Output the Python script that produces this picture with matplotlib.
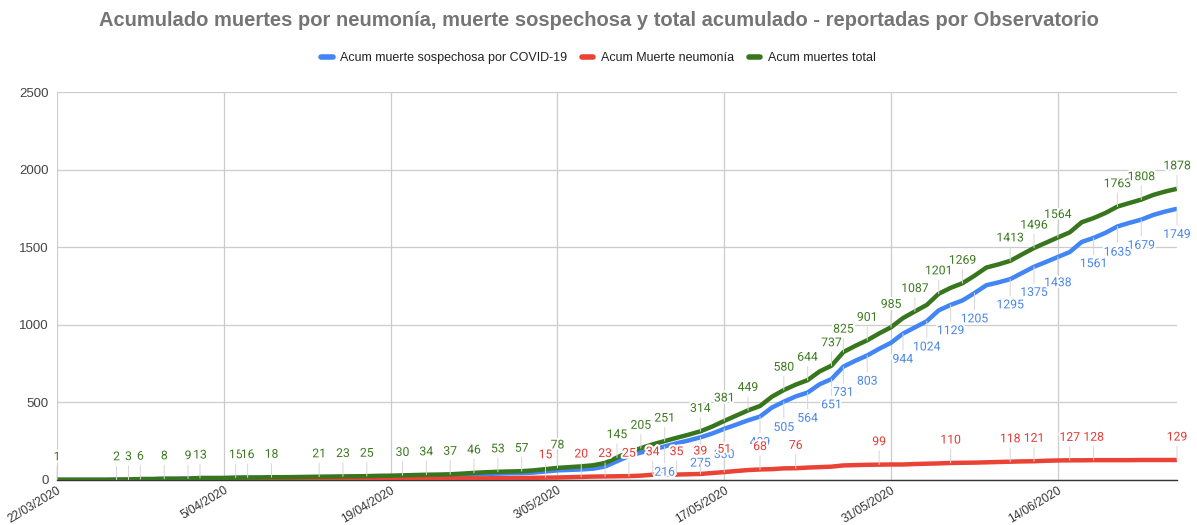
import matplotlib
matplotlib.use('Agg')
import matplotlib.pyplot as plt
import matplotlib.patheffects as pe
from matplotlib.lines import Line2D
import pandas as pd

# ---------------- data ----------------
start_date = '2020-03-22'
n_days = 95
dates = pd.date_range(start_date, periods=n_days, freq='D')

series_names = ['Acum muerte sospechosa por COVID-19', 'Acum Muerte neumonía', 'Acum muertes total']

sospechosa = [1, 1, 1, 1, 1, 2, 3, 6, 6, 8,
              8, 9, 12, 12, 12, 14, 15, 15, 16, 16,
              17, 18, 19, 19, 20, 21, 22, 23, 23, 24,
              25, 26, 26, 27, 31, 35, 39, 41, 43, 44,
              48, 55, 62, 65, 68, 73, 87, 121, 155, 177,
              196, 216, 237, 255, 275, 300, 330, 357, 385, 409,
              467, 505, 539, 564, 617, 651, 731, 769, 803, 846,
              885, 944, 984, 1024, 1094, 1129, 1158, 1205, 1256, 1274,
              1295, 1335, 1375, 1406, 1438, 1470, 1535, 1561, 1594, 1635,
              1658, 1679, 1709, 1731, 1749]

neumonia = [0, 0, 0, 0, 0, 0, 0, 0, 0, 0,
            0, 0, 1, 1, 1, 1, 1, 1, 2, 2,
            2, 2, 2, 3, 3, 3, 3, 4, 5, 6,
            7, 8, 9, 10, 10, 11, 11, 12, 12, 13,
            14, 15, 16, 18, 20, 22, 23, 24, 25, 28,
            34, 35, 35, 37, 39, 45, 51, 58, 64, 68,
            70, 75, 76, 80, 83, 86, 94, 96, 98, 99,
            100, 100, 103, 105, 107, 110, 111, 112, 114, 116,
            118, 120, 121, 124, 126, 127, 127, 128, 128, 128,
            128, 129, 129, 129, 129]

total = [1, 1, 1, 1, 1, 2, 3, 6, 6, 8,
         8, 9, 13, 13, 13, 15, 16, 16, 18, 18,
         19, 20, 21, 22, 23, 24, 25, 27, 28, 30,
         32, 34, 35, 37, 41, 46, 50, 53, 55, 57,
         62, 70, 78, 83, 88, 95, 110, 145, 180, 205,
         230, 251, 272, 292, 314, 345, 381, 415, 449, 477,
         537, 580, 615, 644, 700, 737, 825, 865, 901, 945,
         985, 1044, 1087, 1129, 1201, 1239, 1269, 1317, 1370, 1390,
         1413, 1455, 1496, 1530, 1564, 1597, 1662, 1689, 1722, 1763,
         1786, 1808, 1838, 1860, 1878]

# days (index into dates) that carry a visible data label
lbl_sospechosa = [51, 54, 56, 59, 61, 63, 65, 66, 68, 71, 73, 75, 77, 80, 82, 84, 87, 89, 91, 94]
lbl_neumonia = [41, 44, 46, 48, 50, 52, 54, 56, 59, 62, 69, 75, 80, 82, 85, 87, 94]
lbl_total = [0, 5, 6, 7, 9, 11, 12, 15, 16, 18, 22, 24, 26, 29, 31, 33, 35, 37, 39, 42,
             47, 49, 51, 54, 56, 58, 61, 63, 65, 66, 68, 70, 72, 74, 76, 80, 82, 84, 89, 91, 94]

tick_dates = ['2020-03-22', '2020-04-05', '2020-04-19', '2020-05-03',
              '2020-05-17', '2020-05-31', '2020-06-14']
y_ticks = [0, 500, 1000, 1500, 2000, 2500]

title = 'Acumulado muertes por neumonía, muerte sospechosa y total acumulado - reportadas por Observatorio'

# ---------------- style ----------------
c_blue = '#4285f4'
c_red = '#ea4335'
c_green = '#38761d'
c_blue_t = '#4a86e8'
c_red_t = '#e53935'
c_green_t = '#3d7a22'

plt.rcParams['font.family'] = ['Liberation Sans', 'DejaVu Sans']

W, H = 1197, 525
fig = plt.figure(figsize=(W / 100, H / 100), dpi=100)
ax = fig.add_axes([57 / W, 1 - 480 / H, (1177 - 57) / W, (480 - 92.3) / H])

ax.plot(dates, sospechosa, color=c_blue, lw=3.2, zorder=3, solid_capstyle='butt')
ax.plot(dates, neumonia, color=c_red, lw=3.2, zorder=3, solid_capstyle='butt')
ax.plot(dates, total, color=c_green, lw=3.2, zorder=4, solid_capstyle='butt')

halo = [pe.withStroke(linewidth=3, foreground='white')]


def add_labels(vals, idxs, color, off, z):
    for i in idxs:
        ax.annotate(str(vals[i]), xy=(dates[i], vals[i]), xytext=(0, off),
                    textcoords='offset points', ha='center', va='center',
                    fontsize=8.8, color=color, family=['Roboto', 'DejaVu Sans'],
                    path_effects=halo, zorder=z,
                    arrowprops=dict(arrowstyle='-', color='#d6d6d6', lw=0.7,
                                    shrinkA=0, shrinkB=0))


add_labels(sospechosa, lbl_sospechosa, c_blue_t, -18.5, 6)
add_labels(neumonia, lbl_neumonia, c_red_t, 16.5, 7)
add_labels(total, lbl_total, c_green_t, 16.5, 8)

ax.set_xlim(dates[0], dates[-1])
ax.set_ylim(0, 2500)
td = pd.to_datetime(tick_dates)
ax.set_xticks(td)
ax.set_xticklabels([f"{d.day}/{d.month:02d}/{d.year}" for d in td],
                   rotation=31, ha='right', rotation_mode='anchor',
                   fontsize=8.6, color='#333333')
ax.set_yticks(y_ticks)
ax.set_yticklabels([str(v) for v in y_ticks], fontsize=9.5, color='#444444')
ax.tick_params(axis='y', length=0, pad=6)
ax.tick_params(axis='x', length=0, pad=3)
ax.grid(True, color='#cccccc', lw=0.9)
ax.set_axisbelow(True)
for s in ['top', 'right', 'left']:
    ax.spines[s].set_visible(False)
ax.spines['bottom'].set_color('#333333')
ax.spines['bottom'].set_linewidth(1.0)

fig.text(0.5, 1 - 20 / H, title, ha='center', va='center', fontsize=14.5,
         fontweight='bold', color='#757575')

handles = [Line2D([0], [0], color=c, lw=4, solid_capstyle='round') for c in (c_blue, c_red, c_green)]
fig.legend(handles, series_names, loc='center', bbox_to_anchor=(0.5, 1 - 58 / H),
           ncol=3, frameon=False, fontsize=9, handlelength=0.9, handletextpad=0.6,
           columnspacing=1.2, labelcolor='#222222')

fig.savefig('out.png', dpi=100)
